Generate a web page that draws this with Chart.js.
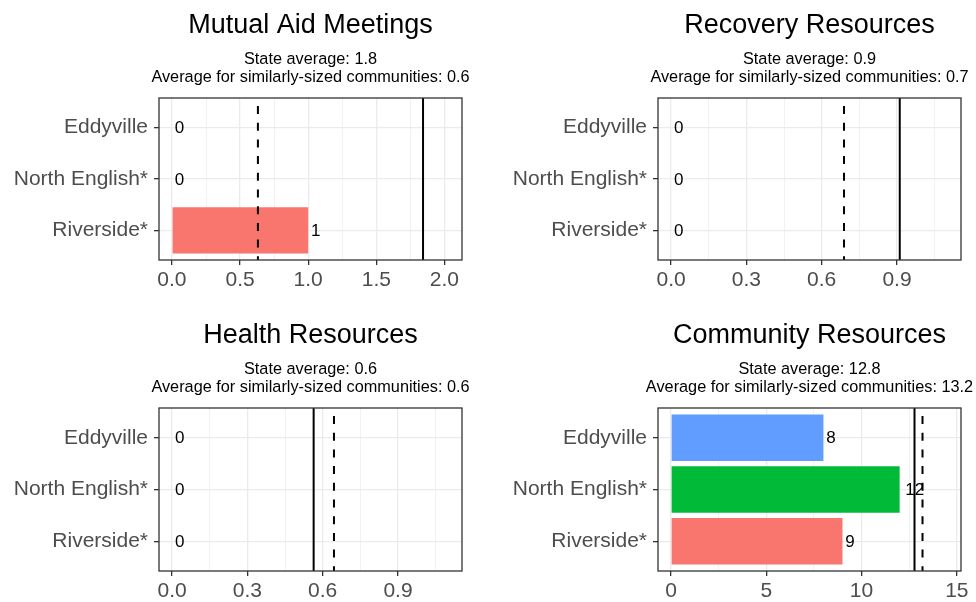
<!DOCTYPE html>
<html>
<head>
<meta charset="utf-8">
<script src="https://cdn.jsdelivr.net/npm/chart.js@4.4.1/dist/chart.umd.min.js"></script>
<style>
html,body{margin:0;padding:0;background:#ffffff;}
#wrap{position:relative;width:976px;height:602px;overflow:hidden;background:#fff;}
#wrap canvas{position:absolute;}
</style>
</head>
<body>
<div id="wrap">
<canvas id="c0" width="488" height="301" style="left:0px;top:0px"></canvas>
<canvas id="c1" width="488" height="301" style="left:488px;top:0px"></canvas>
<canvas id="c2" width="488" height="301" style="left:0px;top:301px"></canvas>
<canvas id="c3" width="488" height="301" style="left:488px;top:301px"></canvas>
</div>
<script>
// ---- data ----
const communities = ["Eddyville", "North English*", "Riverside*"];
const communityColors = ["#619CFF", "#00BA38", "#F8766D"];
const panelTitles = ["Mutual Aid Meetings", "Recovery Resources", "Health Resources", "Community Resources"];

const mutualAidValues = [0, 0, 1];
const recoveryValues = [0, 0, 0];
const healthValues = [0, 0, 0];
const communityValues = [8, 12, 9];

const stateAverages = [1.843, 0.911, 0.564, 12.78];
const similarAverages = [0.631, 0.689, 0.645, 13.2];

const mutualAidTicks = [0, 0.5, 1, 1.5, 2];
const mutualAidTickLabels = ["0.0", "0.5", "1.0", "1.5", "2.0"];
const mutualAidMinor = [0.25, 0.75, 1.25, 1.75];
const recoveryTicks = [0, 0.3, 0.6, 0.9];
const recoveryTickLabels = ["0.0", "0.3", "0.6", "0.9"];
const recoveryMinor = [0.15, 0.45, 0.75, 1.05];
const healthTicks = [0, 0.3, 0.6, 0.9];
const healthTickLabels = ["0.0", "0.3", "0.6", "0.9"];
const healthMinor = [0.15, 0.45, 0.75, 1.05];
const communityTicks = [0, 5, 10, 15];
const communityTickLabels = ["0", "5", "10", "15"];
const communityMinor = [2.5, 7.5, 12.5];

// ---- layout / style ----
const FONT = '"Liberation Sans", Arial, Helvetica, sans-serif';
const W = 488, H = 301, XAXIS_H = 30;
const panels = [
  {values: mutualAidValues, ticks: mutualAidTicks, labels: mutualAidTickLabels, minor: mutualAidMinor,
   min: -0.095, max: 2.129, L: 159, R: 462, T: 98, B: 260},
  {values: recoveryValues, ticks: recoveryTicks, labels: recoveryTickLabels, minor: recoveryMinor,
   min: -0.052, max: 1.155, L: 170, R: 473, T: 98, B: 260},
  {values: healthValues, ticks: healthTicks, labels: healthTickLabels, minor: healthMinor,
   min: -0.052, max: 1.155, L: 159, R: 462, T: 107, B: 270},
  {values: communityValues, ticks: communityTicks, labels: communityTickLabels, minor: communityMinor,
   min: -0.681, max: 15.22, L: 170, R: 473, T: 107, B: 270}
];

const panelDeco = {
  id: 'panelDeco',
  afterDatasetsDraw(chart, args, opts) {
    const {ctx, chartArea: a, scales: {x, y}} = chart;
    ctx.save();
    // value labels
    ctx.font = '17px ' + FONT;
    ctx.fillStyle = '#000000';
    ctx.textBaseline = 'middle';
    ctx.textAlign = 'left';
    const ds = chart.data.datasets[0];
    ds.data.forEach((d) => {
      const txt = String(d.x);
      const w = ctx.measureText(txt).width;
      ctx.fillText(txt, x.getPixelForValue(d.x) + 0.3 * w, y.getPixelForValue(d.y) + 1);
    });
    // state average (solid)
    ctx.strokeStyle = '#000000';
    ctx.lineWidth = 2;
    ctx.beginPath();
    const xs = x.getPixelForValue(opts.state);
    ctx.moveTo(xs, a.top); ctx.lineTo(xs, a.bottom);
    ctx.stroke();
    // similar communities average (dashed)
    ctx.setLineDash([8, 8.7]);
    ctx.lineDashOffset = 8.7;
    ctx.beginPath();
    const xd = x.getPixelForValue(opts.similar);
    ctx.moveTo(xd, a.top); ctx.lineTo(xd, a.bottom);
    ctx.stroke();
    ctx.setLineDash([]);
    // panel border
    ctx.strokeStyle = '#333333';
    ctx.lineWidth = 1.3;
    ctx.strokeRect(a.left, a.top, a.right - a.left, a.bottom - a.top);
    // titles
    const cx = (a.left + a.right) / 2;
    ctx.textAlign = 'center';
    ctx.textBaseline = 'alphabetic';
    ctx.fillStyle = '#000000';
    ctx.font = '27px ' + FONT;
    ctx.fillText(opts.title, cx, a.top - 65);
    ctx.font = '16.3px ' + FONT;
    ctx.fillText('State average: ' + opts.state.toFixed(1), cx, a.top - 34);
    ctx.fillText('Average for similarly-sized communities: ' + opts.similar.toFixed(1), cx, a.top - 16);
    ctx.restore();
  }
};

panels.forEach((p, k) => {
  const isMajor = (v) => p.ticks.some((m) => Math.abs(m - v) < 1e-9);
  const allTicks = p.ticks.concat(p.minor).sort((a, b) => a - b);
  new Chart(document.getElementById('c' + k), {
    type: 'bar',
    data: {
      datasets: [{
        data: p.values.map((v, i) => ({x: v, y: i})),
        backgroundColor: communityColors,
        borderWidth: 0,
        categoryPercentage: 0.9,
        barPercentage: 1.0
      }]
    },
    options: {
      indexAxis: 'y',
      responsive: false,
      animation: false,
      devicePixelRatio: 1,
      layout: {padding: {left: 0, top: p.T, right: W - p.R, bottom: H - p.B - XAXIS_H}},
      plugins: {
        legend: {display: false},
        tooltip: {enabled: false},
        panelDeco: {title: panelTitles[k], state: stateAverages[k], similar: similarAverages[k]}
      },
      scales: {
        x: {
          type: 'linear', position: 'bottom', min: p.min, max: p.max, offset: false,
          afterBuildTicks: (s) => { s.ticks = allTicks.map((v) => ({value: v})); },
          afterFit: (s) => { s.height = XAXIS_H; },
          ticks: {
            autoSkip: false, maxRotation: 0, padding: 3,
            color: '#4D4D4D', font: {family: FONT, size: 21},
            callback: (v) => {
              const idx = p.ticks.findIndex((m) => Math.abs(m - v) < 1e-9);
              return idx >= 0 ? p.labels[idx] : '';
            }
          },
          grid: {
            offset: false,
            color: (c) => isMajor(c.tick.value) ? '#EBEBEB' : '#F1F1F1',
            lineWidth: (c) => isMajor(c.tick.value) ? 1.3 : 0.9,
            tickColor: (c) => isMajor(c.tick.value) ? '#333333' : 'rgba(0,0,0,0)',
            tickWidth: (c) => isMajor(c.tick.value) ? 1.3 : 0,
            tickLength: 5, drawTicks: true
          },
          border: {display: false}
        },
        y: {
          type: 'linear', position: 'left', min: -0.575, max: 2.575, reverse: true, offset: false,
          afterBuildTicks: (s) => { s.ticks = [0, 1, 2].map((v) => ({value: v})); },
          afterFit: (s) => { s.width = p.L; },
          ticks: {
            autoSkip: false, padding: 6,
            color: '#4D4D4D', font: {family: FONT, size: 21},
            callback: (v) => communities[v]
          },
          grid: {offset: false, color: '#EBEBEB', lineWidth: 1.3, tickColor: '#333333', tickWidth: 1.3, tickLength: 5},
          border: {display: false}
        }
      }
    },
    plugins: [panelDeco]
  });
});
</script>
</body>
</html>
